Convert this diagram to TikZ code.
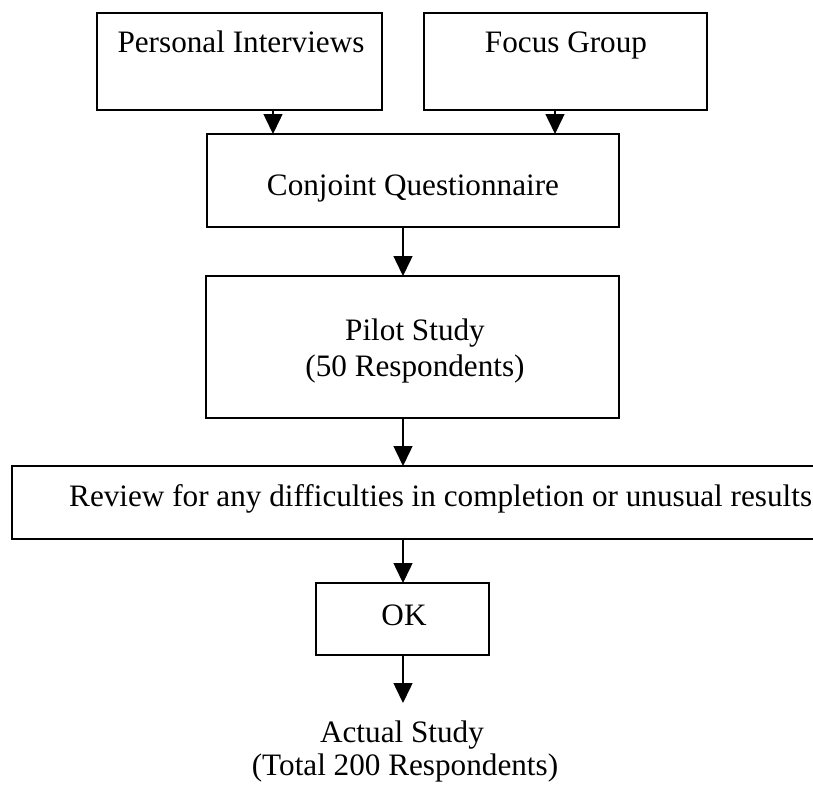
\documentclass[tikz,border=0pt]{standalone}
\usepackage{fontspec}
\setmainfont{Liberation Serif}
\usetikzlibrary{arrows.meta}
\begin{document}
\begin{tikzpicture}[x=1bp,y=-1bp,
  box/.style={draw=black, line width=1.7bp, inner sep=0pt, outer sep=0pt,
              anchor=north west, fill=none},
  lbl/.style={anchor=base, inner sep=0pt, font=\fontsize{31.2bp}{36bp}\selectfont},
  arr/.style={line width=1.5bp, -{Triangle[length=20bp,width=19bp]}, shorten >=0pt}]
\useasboundingbox (0,0) rectangle (813,788);

% boxes, placed by their top left corners
\node[box, minimum width=285bp, minimum height=97bp] (pi) at (97,13) {};
\node[box, minimum width=283bp, minimum height=97bp] (fg) at (424,13) {};
\node[box, minimum width=412bp, minimum height=93bp] (cq) at (207,134) {};
\node[box, minimum width=413bp, minimum height=142bp] (ps) at (206,276) {};
\node[box, minimum width=830bp, minimum height=73bp] (rv) at (12,466) {};
\node[box, minimum width=173bp, minimum height=72bp] (ok) at (316,583) {};

% labels
\node[lbl] (tpi) at (241,53) {Personal Interviews};
\node[lbl] (tfg) at (566,53) {Focus Group};
\node[lbl] (tcq) at (413,195.5) {Conjoint Questionnaire};
\node[lbl] (tps1) at (415,340.5) {Pilot Study};
\node[lbl] (tps2) at (415,376.5) {(50 Respondents)};
\node[lbl, anchor=base west] (trv) at (69,506) {Review for any difficulties in completion or unusual results};
\node[lbl] (tok) at (404,625.5) {OK};
\node[lbl] (tas1) at (402,742) {Actual Study};
\node[lbl] (tas2) at (405,775) {(Total 200 Respondents)};

% arrows
\coordinate (spine) at (403,0);
\coordinate (pix) at (273,0);
\coordinate (fgx) at (555,0);
\coordinate (asx) at (403,703);
\draw[arr] (pi.south -| pix) -- (cq.north -| pix);
\draw[arr] (fg.south -| fgx) -- (cq.north -| fgx);
\draw[arr] (cq.south -| spine) -- (ps.north -| spine);
\draw[arr] (ps.south -| spine) -- (rv.north -| spine);
\draw[arr] (rv.south -| spine) -- (ok.north -| spine);
\draw[arr] (ok.south -| spine) -- (asx);
\end{tikzpicture}
\end{document}
